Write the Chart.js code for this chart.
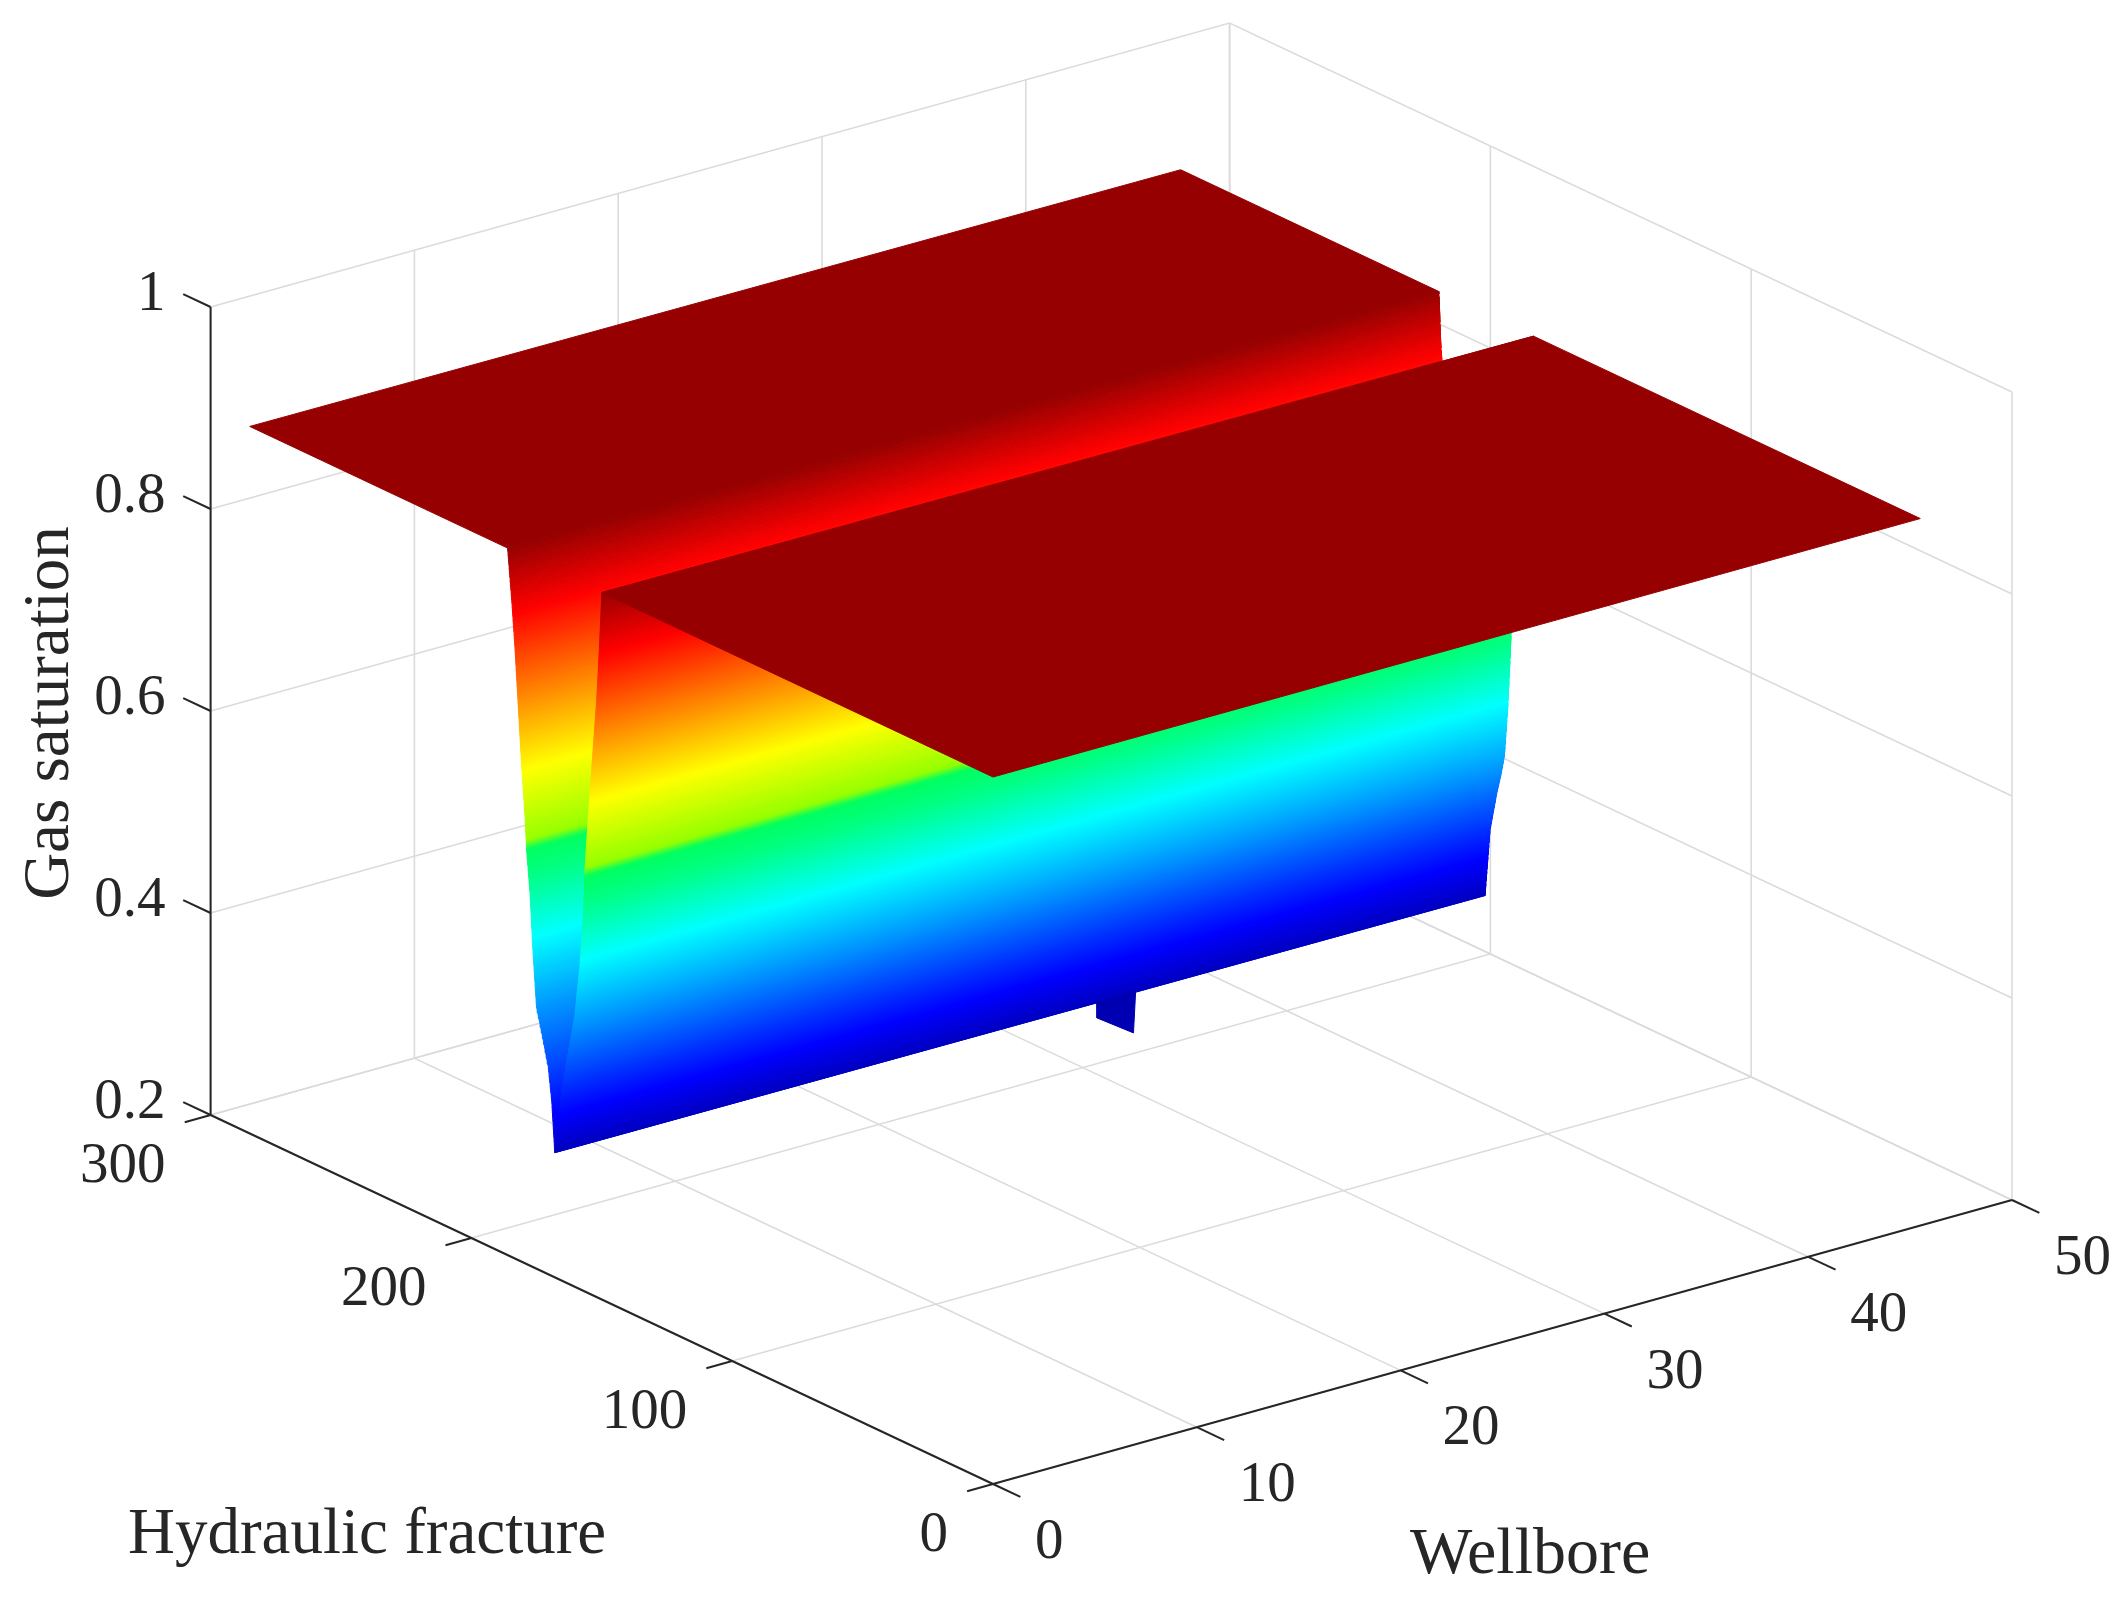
<!DOCTYPE html>
<html>
<head>
<meta charset="utf-8">
<title>Gas saturation surface</title>
<style>html,body{margin:0;padding:0;background:#fff}canvas{display:block}</style>
<script src="https://cdn.jsdelivr.net/npm/chart.js@4/dist/chart.umd.js"></script>
</head>
<body>
<canvas id="c" width="2125" height="1604"></canvas>
<script>
// ---- axes ----
const wellboreTicks = [0, 10, 20, 30, 40, 50];
const fractureTicks = [0, 100, 200, 300];
const saturationTicks = [0.2, 0.4, 0.6, 0.8, 1];
const saturationLabels = ['0.2', '0.4', '0.6', '0.8', '1'];
const xAxisTitle = 'Wellbore';
const yAxisTitle = 'Hydraulic fracture';
const zAxisTitle = 'Gas saturation';

// ---- surface values ----
const wellboreExtent = [0, 45.5];
const frontPlateauNear = [0, 150];     // fracture range at the first wellbore cell
const frontPlateauFar = [0, 148.3];    // fracture range at the last wellbore cell
const backPlateauNear = [186.1, 285];
const backPlateauFar = [184.6, 283.6];
const plateauSaturation = 0.9;

// wall rising from the trough to the back plateau
const backWallSaturation = [0.9, 0.85, 0.806, 0.748, 0.69, 0.642, 0.61, 0.569, 0.514, 0.459, 0.436, 0.4055, 0.374, 0.3235];
const backWallFractureNear = [186.1, 184.5, 183.3, 182, 180.7, 179.4, 178.8, 177.5, 176.4, 175, 173, 170.5, 169.2, 168];
const backWallFractureFar = [184.6, 183.9, 182.8, 181.3, 180, 178.7, 178, 176.8, 175.4, 174, 172, 169.5, 168.2, 166.9];

// wall falling from the front plateau into the trough
const frontWallSaturation = [0.9, 0.84, 0.79, 0.72, 0.67, 0.62, 0.57, 0.52, 0.47, 0.45, 0.43, 0.39, 0.3235];
const frontWallFractureNear = [150, 151, 152, 153.9, 155.2, 156.4, 157.1, 158.4, 160.3, 161.5, 162.8, 165.3, 168];
const frontWallFractureFar = [148.3, 150, 151.5, 153.5, 155, 156.5, 157.3, 158.2, 159.5, 160.8, 162.4, 165, 166.9];

// isolated deeper cell of the trough
const notchWellbore = [26.6, 26.6, 26.6, 28.5];
const notchFracture = [168, 168, 154, 168];
const notchSaturation = [0.323, 0.3073, 0.3095, 0.3235];

// ---- colour map ----
const colourLimits = [0.307, 0.913];
const colourStops = [
  [0, 0, 0, 165], [0.09, 0, 0, 255], [0.36, 0, 255, 255], [0.46, 0, 255, 130],
  [0.5, 0, 255, 95], [0.515, 150, 255, 0], [0.625, 255, 255, 0], [0.875, 255, 0, 0], [1, 128, 0, 0]
];

function colourOf(z) {
  const t = Math.min(1, Math.max(0, (z - colourLimits[0]) / (colourLimits[1] - colourLimits[0])));
  for (let i = 1; i < colourStops.length; i++) {
    const a = colourStops[i - 1], b = colourStops[i];
    if (t <= b[0]) {
      const f = (t - a[0]) / (b[0] - a[0]);
      return 'rgb(' + [1, 2, 3].map(k => Math.round(a[k] + (b[k] - a[k]) * f)).join(',') + ')';
    }
  }
  return 'rgb(128,0,0)';
}

// ---- orthographic view of the 3-D box ----
function proj(x, y, z) {
  return {
    x: 993 + 20.38 * x - 2.608 * y,
    y: 1484 - 5.68 * x - 1.23 * y - 1010 * (z - 0.2)
  };
}

const paint = [];
function line(points, colour, width) {
  paint.push({ data: points, borderColor: colour, borderWidth: width, backgroundColor: 'transparent',
    fill: false, pointRadius: 0, tension: 0, clip: false });
}
function polygon(points, colour) {
  const closed = points.concat([points[0]]);
  paint.push({ data: closed, borderColor: colour, borderWidth: 1, backgroundColor: colour,
    fill: 'shape', pointRadius: 0, tension: 0, clip: false, borderJoinStyle: 'round' });
}

// grid on the two walls and on the floor
const GRID = '#dbdbdb', AXIS = '#262626';
const xMax = wellboreTicks[wellboreTicks.length - 1], yMax = fractureTicks[fractureTicks.length - 1];
const zMin = saturationTicks[0], zMax = saturationTicks[saturationTicks.length - 1];
wellboreTicks.forEach(x => {
  line([proj(x, 0, zMin), proj(x, yMax, zMin), proj(x, yMax, zMax)], GRID, 1.6);
});
fractureTicks.forEach(y => {
  line([proj(0, y, zMin), proj(xMax, y, zMin), proj(xMax, y, zMax)], GRID, 1.6);
});
saturationTicks.forEach(z => {
  line([proj(0, yMax, z), proj(xMax, yMax, z), proj(xMax, 0, z)], GRID, 1.6);
});

// axes and tick marks
line([proj(0, yMax, zMin), proj(0, yMax, zMax)], AXIS, 2);
line([proj(0, yMax, zMin), proj(0, 0, zMin)], AXIS, 2);
line([proj(0, 0, zMin), proj(xMax, 0, zMin)], AXIS, 2);
saturationTicks.forEach(z => line([proj(0, yMax + 10.5, z), proj(0, yMax, z)], AXIS, 2));
fractureTicks.forEach(y => line([proj(-1.27, y, zMin), proj(0, y, zMin)], AXIS, 2));
wellboreTicks.forEach(x => line([proj(x, -10.5, zMin), proj(x, 0, zMin)], AXIS, 2));

// surface, painted from the far side to the near side
function plateau(near, far) {
  polygon([
    proj(wellboreExtent[0], near[1], plateauSaturation),
    proj(wellboreExtent[1], far[1], plateauSaturation),
    proj(wellboreExtent[1], far[0], plateauSaturation),
    proj(wellboreExtent[0], near[0], plateauSaturation)
  ], colourOf(plateauSaturation));
}
function wall(zs, near, far) {
  for (let i = 0; i < zs.length - 1; i++) {
    const steps = Math.max(1, Math.round(Math.abs(zs[i] - zs[i + 1]) * 1010 / 2.5));
    for (let s = 0; s < steps; s++) {
      const a = s / steps, b = (s + 1) / steps;
      const mix = (v, f) => v[i] + (v[i + 1] - v[i]) * f;
      polygon([
        proj(wellboreExtent[0], mix(near, a), mix(zs, a)),
        proj(wellboreExtent[1], mix(far, a), mix(zs, a)),
        proj(wellboreExtent[1], mix(far, b), mix(zs, b)),
        proj(wellboreExtent[0], mix(near, b), mix(zs, b))
      ], colourOf(mix(zs, (a + b) / 2)));
    }
  }
}
plateau(backPlateauNear, backPlateauFar);
wall(backWallSaturation, backWallFractureNear, backWallFractureFar);
wall(frontWallSaturation, frontWallFractureNear, frontWallFractureFar);
polygon(notchWellbore.map((x, i) => proj(x, notchFracture[i], notchSaturation[i])), colourOf(0.315));
plateau(frontPlateauNear, frontPlateauFar);

// real text, placed through the chart's scales
const textPlugin = {
  id: 'boxText',
  afterDraw(chart) {
    const c = chart.ctx, sx = chart.scales.x, sy = chart.scales.y;
    const put = (p, dx, dy, s, align) => {
      c.textAlign = align; c.textBaseline = 'middle';
      c.fillText(s, sx.getPixelForValue(p.x) + dx, sy.getPixelForValue(p.y) + dy);
    };
    c.save();
    c.fillStyle = AXIS;
    c.font = '57px "Liberation Serif"';
    saturationTicks.forEach((z, i) => put(proj(0, yMax, z), -45, -12, saturationLabels[i], 'right'));
    fractureTicks.forEach(y => put(proj(0, y, zMin), -45, 52, String(y), 'right'));
    wellboreTicks.forEach(x => put(proj(x, 0, zMin), 42, 59, String(x), 'left'));
    c.font = '65px "Liberation Serif"';
    c.textBaseline = 'alphabetic';
    c.textAlign = 'left';
    c.fillText(yAxisTitle, 128, 1553);
    c.font = '66px "Liberation Serif"';
    c.fillText(xAxisTitle, 1410, 1573);
    c.font = '65px "Liberation Serif"';
    c.translate(68, 713);
    c.rotate(-Math.PI / 2);
    c.textAlign = 'center';
    c.fillText(zAxisTitle, 0, 0);
    c.restore();
  }
};

new Chart(document.getElementById('c'), {
  type: 'line',
  data: { datasets: paint.slice().reverse() },
  options: {
    responsive: false,
    animation: false,
    events: [],
    layout: { padding: 0 },
    plugins: { legend: { display: false }, tooltip: { enabled: false }, title: { display: false } },
    scales: {
      x: { type: 'linear', min: 0, max: 2125, display: false },
      y: { type: 'linear', min: 0, max: 1604, reverse: true, display: false }
    }
  },
  plugins: [textPlugin]
});
</script>
</body>
</html>
